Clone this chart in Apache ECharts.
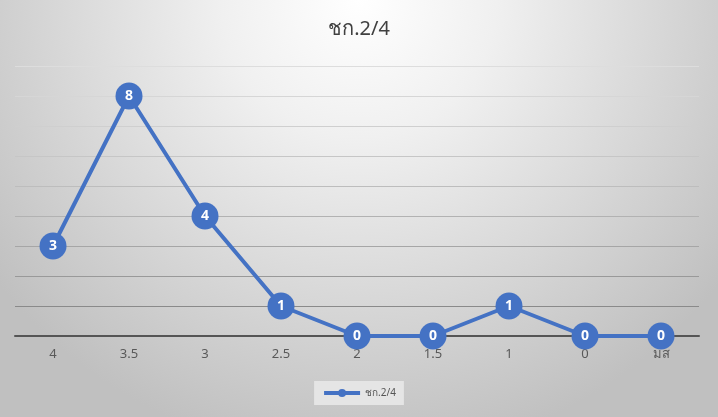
<!DOCTYPE html>
<html>
<head>
<meta charset="utf-8">
<script src="https://cdn.jsdelivr.net/npm/echarts@6/dist/echarts.min.js"></script>
<style>html,body{margin:0;padding:0;}#c{width:718px;height:417px;}</style>
</head>
<body>
<div id="c"></div>
<script>
const categories = ['4', '3.5', '3', '2.5', '2', '1.5', '1', '0', 'มส'];
const seriesName = 'ชก.2/4';
const values = [3, 8, 4, 1, 0, 0, 1, 0, 0];
const titleText = 'ชก.2/4';

const chart = echarts.init(document.getElementById('c'), null, {renderer: 'canvas'});
chart.setOption({
  animation: false,
  backgroundColor: {
    type: 'radial', x: 0.5, y: 0.0, r: 1.1,
    colorStops: [{offset: 0, color: '#ffffff'}, {offset: 0.3, color: '#f0f0f0'}, {offset: 1, color: '#c0c0c0'}]
  },
  title: {
    text: titleText, left: 'center', top: 14,
    textStyle: {fontFamily: 'Noto Sans, sans-serif', fontSize: 20, fontWeight: 'normal', color: '#404040'}
  },
  legend: {
    bottom: 12, left: 'center',
    itemWidth: 36, itemHeight: 10, itemGap: 4,
    backgroundColor: 'rgba(232,232,232,0.9)',
    padding: [7, 8, 7, 8],
    lineStyle: {width: 4},
    textStyle: {fontFamily: 'Noto Sans, sans-serif', fontSize: 10, color: '#555'},
    data: [seriesName]
  },
  grid: {left: 15, right: 19, top: 66, bottom: 81},
  xAxis: {
    type: 'category', data: categories, boundaryGap: true,
    axisLine: {lineStyle: {color: '#555', width: 2}},
    axisTick: {show: false},
    axisLabel: {fontFamily: 'Noto Sans, sans-serif', fontSize: 13, color: '#595959', margin: 12}
  },
  yAxis: {
    type: 'value', min: 0, max: 9, interval: 1,
    axisLabel: {show: false}, axisLine: {show: false}, axisTick: {show: false},
    splitLine: {lineStyle: {width: 1, color: ['#777', '#8a8a8a', '#999', '#a6a6a6', '#b2b2b2', '#bdbdbd', '#c6c6c6', '#cfcfcf', '#d6d6d6', '#dddddd']}}
  },
  series: [{
    name: seriesName, type: 'line', data: values,
    symbol: 'circle', symbolSize: 27,
    itemStyle: {color: '#4472C4'},
    lineStyle: {color: '#4472C4', width: 4},
    label: {show: true, position: 'inside', color: '#fff', fontWeight: 'bold', fontSize: 14, fontFamily: 'Noto Sans, sans-serif'}
  }]
});
</script>
</body>
</html>
